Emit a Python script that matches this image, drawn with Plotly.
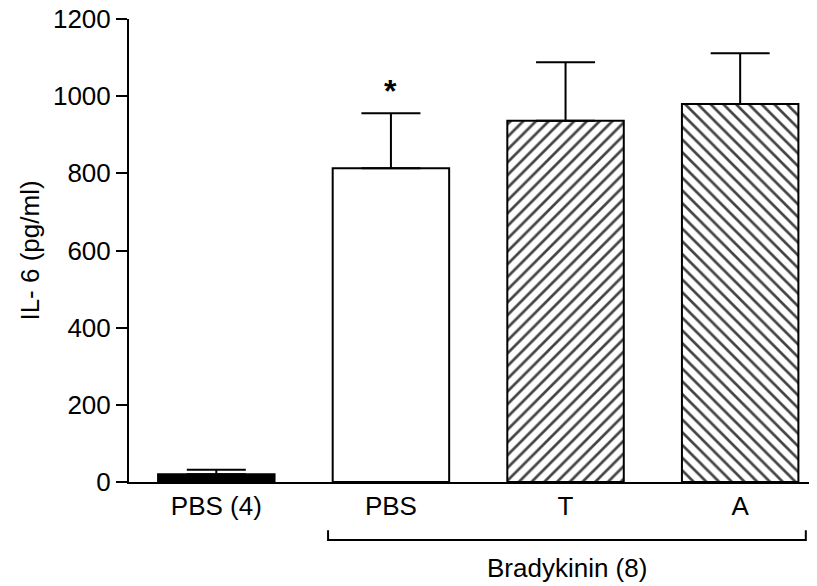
import plotly.graph_objects as go

categories = ["PBS (4)", "PBS", "T", "A"]
means = [20, 813, 936, 980]
sem_up = [12, 143, 152, 131]
fills = ["black", "white", "white", "white"]
patterns = ["", "", "/", "\\"]
tick_vals = [0, 200, 400, 600, 800, 1000, 1200]
group_label = "Bradykinin (8)"
signif_mark = "*"

FONT = "Liberation Sans, Arial, sans-serif"
FS = 26

fig = go.Figure()
fig.add_trace(go.Bar(
    x=list(range(len(categories))),
    y=means,
    width=0.667,
    marker=dict(
        color=fills,
        line=dict(color="black", width=2),
        pattern=dict(shape=patterns, fgcolor="black", bgcolor="white",
                     size=9, solidity=0.3, fillmode="overlay", fgopacity=1),
    ),
    error_y=dict(type="data", symmetric=False, array=sem_up,
                 arrayminus=[0] * len(means), color="black",
                 thickness=2, width=29.5),
    showlegend=False,
))

# significance marker above PBS bar
fig.add_annotation(x=1, y=means[1] + sem_up[1], yshift=2, text="<b>" + signif_mark + "</b>",
                   showarrow=False, font=dict(family=FONT, size=32, color="black"),
                   yanchor="bottom")

# bracket under the bradykinin groups
fig.add_shape(type="path", xref="x", yref="paper",
              path="M 0.64,-0.104 L 0.64,-0.125 L 3.376,-0.125 L 3.376,-0.104",
              line=dict(color="black", width=2))
fig.add_annotation(x=2.008, y=-0.186, xref="x", yref="paper", text=group_label,
                   showarrow=False, font=dict(family=FONT, size=FS, color="black"),
                   yanchor="middle")

fig.update_layout(
    width=817, height=586,
    margin=dict(l=121, r=8, t=11, b=112),
    paper_bgcolor="white", plot_bgcolor="white",
    font=dict(family=FONT, size=FS, color="black"),
)
fig.update_xaxes(
    range=[-0.5, 3.44], automargin=False,
    tickmode="array", tickvals=list(range(len(categories))), ticktext=categories,
    showline=True, linecolor="black", linewidth=2,
    ticks="", showgrid=False, zeroline=False,
    tickfont=dict(family=FONT, size=FS, color="black"),
)
fig.update_yaxes(
    range=[0, 1200], automargin=False,
    tickmode="array", tickvals=tick_vals,
    showline=True, linecolor="black", linewidth=2,
    ticks="outside", ticklen=11, tickwidth=2, tickcolor="black",
    showgrid=False, zeroline=False, ticklabeloverflow="allow",
    tickfont=dict(family=FONT, size=FS, color="black"),
    title=dict(text="IL- 6 (pg/ml)", font=dict(family=FONT, size=FS, color="black"),
               standoff=6),
)

fig.write_html("out.html")
